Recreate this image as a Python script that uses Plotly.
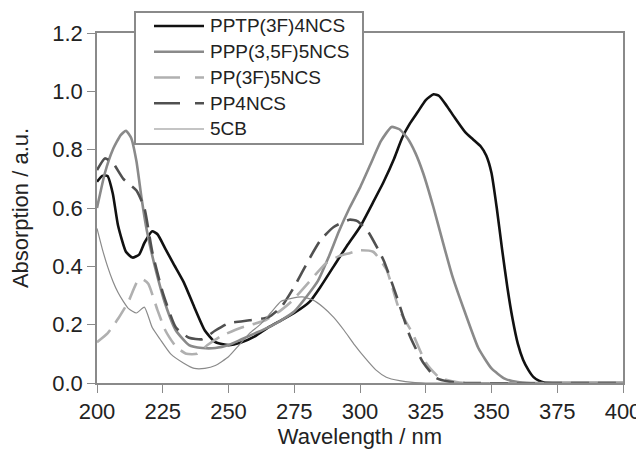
import plotly.graph_objects as go

# ---------------- data ----------------
names = ["PPTP(3F)4NCS", "PPP(3,5F)5NCS", "PP(3F)5NCS", "PP4NCS", "5CB"]

pptp_x = [200, 202, 204, 206, 208, 211, 213.5, 216, 218, 221, 223, 226, 229, 233, 237, 241, 245, 250,
          255, 260, 265, 270, 275, 281, 285, 290, 295, 300, 305, 309, 313, 316, 319, 322, 325, 328,
          330, 333, 336, 340, 343, 346, 348, 350, 352, 354, 356, 358, 360, 362, 364, 366, 368, 370, 375, 400]
pptp_y = [0.69, 0.71, 0.71, 0.65, 0.54, 0.45, 0.43, 0.44, 0.48, 0.52, 0.51, 0.46, 0.41, 0.345, 0.26, 0.18,
          0.14, 0.13, 0.14, 0.16, 0.19, 0.215, 0.24, 0.28, 0.33, 0.40, 0.47, 0.535, 0.62, 0.69, 0.77, 0.84,
          0.89, 0.93, 0.97, 0.99, 0.985, 0.95, 0.91, 0.86, 0.835, 0.81, 0.78, 0.72, 0.60, 0.46, 0.33, 0.22,
          0.135, 0.08, 0.045, 0.02, 0.008, 0.002, 0, 0]

ppp_x = [200, 203, 206, 209, 211, 213, 215, 217, 219, 222, 226, 230, 235, 240, 245, 250, 255, 260, 265,
         270, 275, 280, 284, 288, 292, 296, 300, 304, 308, 312, 315, 318, 321, 324, 328, 331, 335, 340,
         345, 350, 355, 360, 365, 400]
ppp_y = [0.60, 0.72, 0.80, 0.85, 0.865, 0.84, 0.76, 0.63, 0.52, 0.40, 0.27, 0.18, 0.13, 0.12, 0.12, 0.13,
         0.15, 0.17, 0.19, 0.215, 0.245, 0.30, 0.35, 0.43, 0.52, 0.60, 0.67, 0.75, 0.83, 0.878, 0.87, 0.84,
         0.79, 0.72, 0.60, 0.50, 0.37, 0.24, 0.12, 0.05, 0.015, 0.003, 0, 0]

pp3f_x = [200, 204, 208, 212, 215.5, 217.5, 219.5, 223, 226, 230, 234, 238, 242, 247, 255, 264, 270, 274,
          280, 287, 292, 296, 300, 305, 310, 315, 320, 325, 330, 335, 340, 400]
pp3f_y = [0.14, 0.17, 0.22, 0.28, 0.35, 0.355, 0.34, 0.25, 0.18, 0.125, 0.10, 0.10, 0.13, 0.16, 0.19, 0.215,
          0.25, 0.28, 0.34, 0.41, 0.435, 0.445, 0.455, 0.45, 0.39, 0.25, 0.17, 0.07, 0.02, 0.006, 0, 0]

pp4_x = [200, 203, 206, 210, 215, 218, 221, 225, 230, 235, 240, 245, 250, 258, 265, 270, 275, 281, 285,
         290, 296, 299, 303, 309, 314, 319, 324, 329, 335, 340, 400]
pp4_y = [0.73, 0.77, 0.755, 0.70, 0.66, 0.60, 0.45, 0.31, 0.19, 0.155, 0.15, 0.18, 0.205, 0.215, 0.225,
         0.26, 0.33, 0.43, 0.49, 0.535, 0.56, 0.555, 0.52, 0.42, 0.295, 0.16, 0.07, 0.017, 0.003, 0, 0]

cb5_x = [200, 202, 204, 206, 208, 210, 212, 215, 218, 221, 224, 228, 233, 237, 241, 245, 250, 254, 258,
         262, 266, 270, 274, 278, 282, 286, 290, 294, 298, 302, 306, 310, 315, 320, 325, 330, 400]
cb5_y = [0.53, 0.46, 0.40, 0.35, 0.31, 0.28, 0.255, 0.24, 0.26, 0.19, 0.15, 0.10, 0.068, 0.05, 0.05, 0.06,
         0.09, 0.13, 0.17, 0.20, 0.24, 0.28, 0.29, 0.295, 0.285, 0.26, 0.225, 0.18, 0.13, 0.085, 0.045,
         0.02, 0.008, 0.002, 0, 0, 0]

x_ticks = [200, 225, 250, 275, 300, 325, 350, 375, 400]
y_ticks = [0.0, 0.2, 0.4, 0.6, 0.8, 1.0, 1.2]

# ---------------- styles ----------------
series = [
    (pptp_x, pptp_y, dict(color="#111111", width=2.6, dash="solid")),
    (ppp_x, ppp_y, dict(color="#8a8a8a", width=2.6, dash="solid")),
    (pp3f_x, pp3f_y, dict(color="#b0b0b0", width=2.6, dash="18px,9px")),
    (pp4_x, pp4_y, dict(color="#505050", width=2.6, dash="18px,9px")),
    (cb5_x, cb5_y, dict(color="#8a8a8a", width=1.2, dash="solid")),
]

FONT = "Liberation Sans, Arial, sans-serif"
fig = go.Figure()
for name, (xs, ys, ln) in zip(names, series):
    fig.add_trace(go.Scatter(x=xs, y=ys, mode="lines", name=name,
                             line=dict(shape="spline", smoothing=0.5, **ln), showlegend=False))

# page offset of 8 px (body margin); plot area in figure pixels
OFF = 8
W, H = 644 - OFF, 463 - OFF
L, R, T, B = 97 - OFF, 623 - OFF, 33 - OFF, 383 - OFF
px = lambda p: (p - OFF - L) / (R - L)   # p given in page pixels
py = lambda p: (B - (p - OFF)) / (B - T)

shapes = [dict(type="rect", xref="paper", yref="paper", x0=px(135), x1=px(363), y0=py(144), y1=py(12),
               line=dict(color="#8a8a8a", width=2), fillcolor="white", layer="above")]
annotations = []
for i, (name, (_, _, ln)) in enumerate(zip(names, series)):
    yc = 26 + i * 25.75
    shapes.append(dict(type="line", xref="paper", yref="paper", x0=px(154), x1=px(204), y0=py(yc), y1=py(yc),
                       line=dict(color=ln["color"], width=ln["width"],
                                 dash="26px,15px" if ln["dash"] != "solid" else "solid"), layer="above"))
    annotations.append(dict(xref="paper", yref="paper", x=px(208), y=py(yc), text=name, showarrow=False,
                            xanchor="left", yanchor="middle", font=dict(family=FONT, size=19, color="#222222")))

axis_common = dict(showline=True, linecolor="#8a8a8a", linewidth=1.6, mirror=True, showgrid=False,
                   zeroline=False, ticks="outside", ticklen=8, tickcolor="#8a8a8a", tickwidth=1.3,
                   tickfont=dict(family=FONT, size=22, color="#222222"))

fig.update_layout(
    width=W, height=H, plot_bgcolor="white", paper_bgcolor="white",
    margin=dict(l=L, r=W - R, t=T, b=H - B, autoexpand=False),
    xaxis=dict(range=[200, 400], tickvals=x_ticks, ticktext=[str(v) for v in x_ticks],
               title=dict(text="Wavelength / nm", font=dict(family=FONT, size=22, color="#222222"), standoff=0),
               **axis_common),
    yaxis=dict(range=[0, 1.2], tickvals=y_ticks, ticktext=[f"{v:.1f}" for v in y_ticks],
               title=dict(text="Absorption / a.u.", font=dict(family=FONT, size=22, color="#222222"), standoff=18),
               **axis_common),
    shapes=shapes, annotations=annotations, showlegend=False,
)

fig.write_html("out.html")
